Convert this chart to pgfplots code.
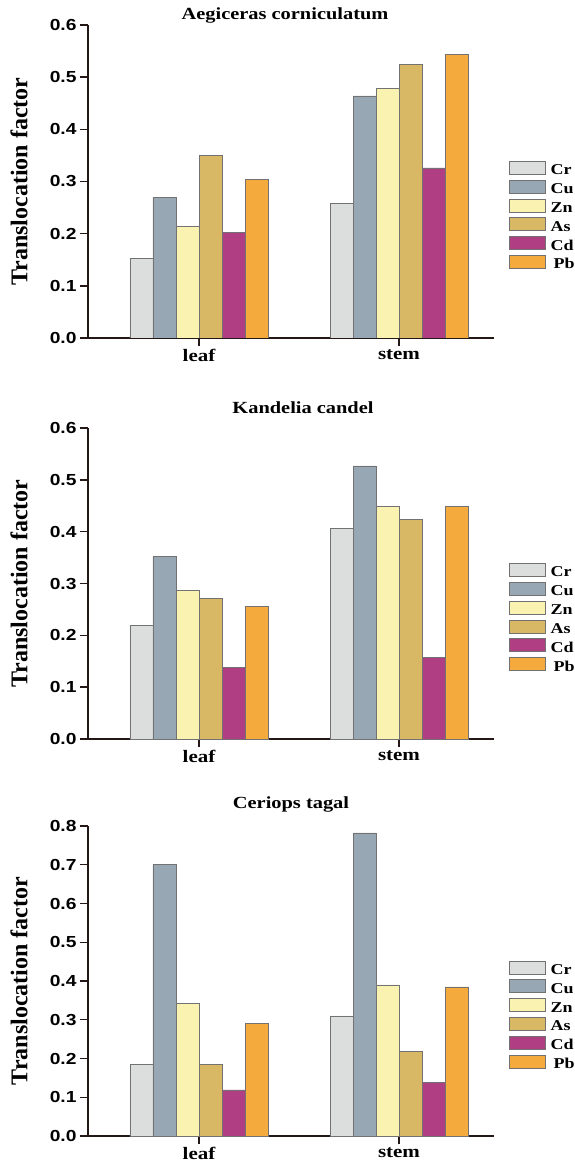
\documentclass[border=0pt]{standalone}
\usepackage{pgfplots}
\pgfplotsset{compat=1.18}
\usepackage{fontspec}
\setmainfont{Liberation Serif}
\newfontfamily\serifS[FakeStretch=1.2]{Liberation Serif}
\newfontfamily\sansS[FakeStretch=1.2]{Liberation Sans}
\definecolor{crc}{HTML}{DCDDDD}
\definecolor{cuc}{HTML}{97A8B4}
\definecolor{znc}{HTML}{FAF2B1}
\definecolor{asc}{HTML}{D8B865}
\definecolor{cdc}{HTML}{AF3F82}
\definecolor{pbc}{HTML}{F4AA3C}
\definecolor{axc}{HTML}{231815}
\definecolor{edge}{HTML}{727272}
\pgfplotsset{
  lg/.style={legend image code/.code={\draw[##1,line width=0.7pt] (0pt,-3pt) rectangle (36pt,10pt);}},
  panel/.style={
    scale only axis, width=406pt,
    anchor=north west,
    axis lines=left, axis line style={-, line width=1.4pt, color=axc},
    ybar=0pt, bar width=23pt,
    xmin=-0.555, xmax=1.475, xtick={0,1}, xticklabels={leaf,stem},
    ymin=0, ytick distance=0.1,
    enlargelimits=false,
    tick align=outside, major tick length=8pt,
    tick style={line width=1.4pt, color=axc},
    minor tick num=0,
    xticklabel style={font=\serifS\bfseries\fontsize{17.5}{17.5}\selectfont},
    yticklabel style={font=\sansS\bfseries\fontsize{16}{16}\selectfont,
      /pgf/number format/fixed, /pgf/number format/fixed zerofill,
      /pgf/number format/precision=1, /pgf/number format/assume math mode=true},
    ylabel={Translocation factor},
    ylabel style={font=\bfseries\fontsize{24}{24}\selectfont, at={(axis description cs:0,0.5)}, anchor=center, yshift=69pt},
    title style={font=\serifS\bfseries\fontsize{17}{17}\selectfont, at={(axis description cs:0.5,1)}, anchor=base},
    legend style={draw=none, fill=none, inner sep=0pt, outer sep=0pt,
      column sep=5pt, row sep=2pt, at={(1,0.566)}, anchor=north west, xshift=15pt,
      nodes={inner sep=0pt, font=\serifS\bfseries\fontsize{15}{15}\selectfont, text height=10pt, text depth=3pt}},
    legend cell align=left,
  },
}
\begin{document}
\begin{tikzpicture}[x=1pt,y=1pt]
\path[use as bounding box] (0,0) rectangle (574,-1163);
% Panel 1
\begin{axis}[panel, at={(88pt,-25pt)}, height=313pt, ymax=0.6,
  title={Aegiceras corniculatum}, title style={yshift=0pt, xshift=-6pt}]
\addplot[fill=crc, draw=edge, line width=0.6pt, lg] coordinates {(0,0.152) (1,0.258)};
\addplot[fill=cuc, draw=edge, line width=0.6pt, lg] coordinates {(0,0.270) (1,0.464)};
\addplot[fill=znc, draw=edge, line width=0.6pt, lg] coordinates {(0,0.214) (1,0.478)};
\addplot[fill=asc, draw=edge, line width=0.6pt, lg] coordinates {(0,0.350) (1,0.525)};
\addplot[fill=cdc, draw=edge, line width=0.6pt, lg] coordinates {(0,0.203) (1,0.326)};
\addplot[fill=pbc, draw=edge, line width=0.6pt, lg] coordinates {(0,0.304) (1,0.544)};
\legend{Cr,Cu,Zn,As,Cd,{\hspace{3pt}Pb}}
\end{axis}
% Panel 2
\begin{axis}[panel, at={(88pt,-428pt)}, height=311pt, ymax=0.6,
  title={Kandelia candel}, title style={yshift=9pt, xshift=12pt}]
\addplot[fill=crc, draw=edge, line width=0.6pt, lg] coordinates {(0,0.219) (1,0.407)};
\addplot[fill=cuc, draw=edge, line width=0.6pt, lg] coordinates {(0,0.353) (1,0.527)};
\addplot[fill=znc, draw=edge, line width=0.6pt, lg] coordinates {(0,0.287) (1,0.448)};
\addplot[fill=asc, draw=edge, line width=0.6pt, lg] coordinates {(0,0.272) (1,0.424)};
\addplot[fill=cdc, draw=edge, line width=0.6pt, lg] coordinates {(0,0.138) (1,0.158)};
\addplot[fill=pbc, draw=edge, line width=0.6pt, lg] coordinates {(0,0.256) (1,0.448)};
\legend{Cr,Cu,Zn,As,Cd,{\hspace{3pt}Pb}}
\end{axis}
% Panel 3
\begin{axis}[panel, at={(88pt,-826pt)}, height=310pt, ymax=0.8,
  title={Ceriops tagal}, title style={yshift=12pt}]
\addplot[fill=crc, draw=edge, line width=0.6pt, lg] coordinates {(0,0.185) (1,0.310)};
\addplot[fill=cuc, draw=edge, line width=0.6pt, lg] coordinates {(0,0.701) (1,0.782)};
\addplot[fill=znc, draw=edge, line width=0.6pt, lg] coordinates {(0,0.342) (1,0.390)};
\addplot[fill=asc, draw=edge, line width=0.6pt, lg] coordinates {(0,0.184) (1,0.219)};
\addplot[fill=cdc, draw=edge, line width=0.6pt, lg] coordinates {(0,0.119) (1,0.139)};
\addplot[fill=pbc, draw=edge, line width=0.6pt, lg] coordinates {(0,0.291) (1,0.385)};
\legend{Cr,Cu,Zn,As,Cd,{\hspace{3pt}Pb}}
\end{axis}
\end{tikzpicture}
\end{document}
